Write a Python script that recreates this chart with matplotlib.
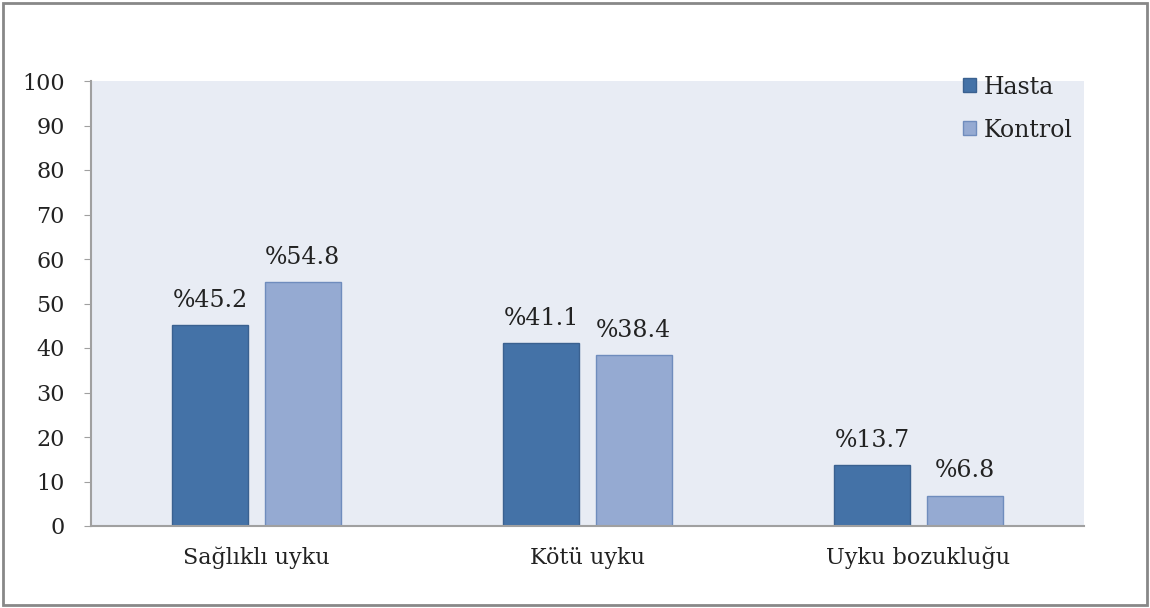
import matplotlib.pyplot as plt
import matplotlib.patches as mpatches
import numpy as np

categories = ["Sağlıklı uyku", "Kötü uyku", "Uyku bozukluğu"]
hasta = [45.2, 41.1, 13.7]
kontrol = [54.8, 38.4, 6.8]
series_names = ["Hasta", "Kontrol"]

plt.rcParams["font.family"] = ["DejaVu Serif"]

fig = plt.figure(figsize=(11.5, 6.08), dpi=100)
ax = fig.add_axes([91 / 1150, 1 - 526 / 608, 993 / 1150, 445 / 608])
ax.set_facecolor("#E8ECF4")

x = np.arange(len(categories))
w = 0.23
off = 0.14
ax.bar(x - off, hasta, w, color="#4472A7", edgecolor="#3A6190", linewidth=1, label=series_names[0])
ax.bar(x + off, kontrol, w, color="#95AAD2", edgecolor="#6F8CBD", linewidth=1, label=series_names[1])

for xi, v in zip(x, hasta):
    ax.text(xi - off, v + 3.0, f"%{v}", ha="center", va="bottom", fontsize=17, color="#222222")
for xi, v in zip(x, kontrol):
    ax.text(xi + off, v + 3.0, f"%{v}", ha="center", va="bottom", fontsize=17, color="#222222")

ax.set_xlim(-0.5, 2.5)
ax.set_ylim(0, 100)
ax.set_yticks(range(0, 101, 10))
ax.set_xticks(x)
ax.set_xticklabels(categories, fontsize=16)
ax.tick_params(axis="y", labelsize=16, length=5, color="#A0A0A0", pad=14, labelcolor="#222222")
ax.tick_params(axis="x", length=0, pad=15, labelcolor="#222222")

for s in ["top", "right"]:
    ax.spines[s].set_visible(False)
for s in ["left", "bottom"]:
    ax.spines[s].set_color("#A0A0A0")
    ax.spines[s].set_linewidth(1.5)

handles = [
    mpatches.Patch(facecolor="#4472A7", edgecolor="#3A6190", label=series_names[0]),
    mpatches.Patch(facecolor="#95AAD2", edgecolor="#6F8CBD", label=series_names[1]),
]
ax.legend(handles=handles, loc="upper left", bbox_to_anchor=(0.857, 1.06), frameon=False,
          fontsize=17, handlelength=0.55, handleheight=0.55, handletextpad=0.3, labelspacing=0.85,
          labelcolor="#222222")

border = mpatches.Rectangle((0.003, 0.005), 0.994, 0.99, transform=fig.transFigure,
                            fill=False, edgecolor="#888888", linewidth=2)
fig.patches.append(border)

fig.savefig("out.png", dpi=100)
